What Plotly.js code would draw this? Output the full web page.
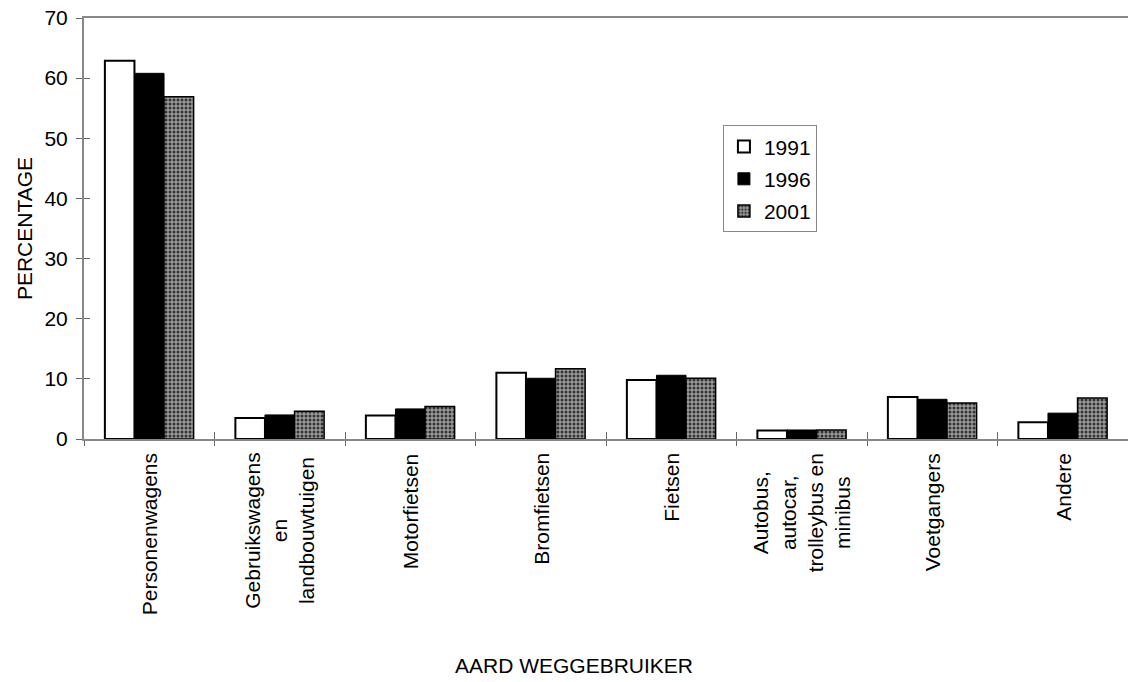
<!DOCTYPE html>
<html>
<head>
<meta charset="utf-8">
<script src="https://cdn.plot.ly/plotly-3.0.1.min.js"></script>
<style>html,body{margin:0;padding:0;background:#fff}#chart{width:1128px;height:682px}</style>
</head>
<body>
<div id="chart"></div>
<script>
const categories = [
  "Personenwagens",
  "Gebruikswagens<br>en<br>landbouwtuigen",
  "Motorfietsen",
  "Bromfietsen",
  "Fietsen",
  "Autobus,<br>autocar,<br>trolleybus en<br>minibus",
  "Voetgangers",
  "Andere"
];
const seriesNames = ["1991", "1996", "2001"];
const values1991 = [62.9, 3.5, 3.9, 11.0, 9.8, 1.4, 7.0, 2.8];
const values1996 = [60.8, 4.0, 5.0, 10.1, 10.6, 1.5, 6.6, 4.3];
const values2001 = [56.9, 4.6, 5.4, 11.7, 10.1, 1.5, 6.0, 6.8];
const yTicks = [0, 10, 20, 30, 40, 50, 60, 70];
const xTitle = "AARD WEGGEBRUIKER";
const yTitle = "PERCENTAGE";

const fam = "Liberation Sans, Arial, sans-serif";
const font = {family: fam, size: 21, color: "#000"};

const traces = [
  {type: "bar", name: seriesNames[0], legendgroup: "a", x: categories, y: values1991,
   marker: {color: "#ffffff", line: {color: "#000", width: 2}}},
  {type: "bar", name: seriesNames[1], legendgroup: "b", x: categories, y: values1996,
   marker: {color: "#000000", line: {color: "#000", width: 1}}},
  {type: "bar", name: seriesNames[2], legendgroup: "c", x: categories, y: values2001,
   marker: {color: "#8a8a8a", line: {color: "#000", width: 1.5},
            pattern: {shape: ".", fgcolor: "#333", bgcolor: "#9a9a9a", size: 4, solidity: 0.45}}},
  // helper trace for the inner half of the crossing tick marks (draws nothing)
  {type: "scatter", mode: "none", x: categories, y: values1991, xaxis: "x2", yaxis: "y2",
   showlegend: false, hoverinfo: "skip"}
];

const labelAnnotations = categories.map(c => ({
  text: c, x: c, xref: "x", y: 0, yref: "paper",
  xanchor: "center", yanchor: "top", yshift: -12,
  textangle: -90, align: "center", showarrow: false,
  font: font
}));

const layout = {
  width: 1128, height: 682,
  margin: {l: 84, r: 0, t: 18, b: 243},
  paper_bgcolor: "#fff", plot_bgcolor: "#fff",
  font: font,
  barmode: "group",
  bargap: 0.32,
  bargroupgap: 0,
  showlegend: true,
  legend: {x: 0.612, y: 0.745, xanchor: "left", yanchor: "top",
           bordercolor: "#888", borderwidth: 1, bgcolor: "#fff",
           font: {family: fam, size: 21, color: "#000"},
           itemwidth: 30, tracegroupgap: 2},
  xaxis: {
    type: "category",
    showticklabels: false,
    showline: true, linecolor: "#888", linewidth: 2, mirror: true,
    ticks: "outside", tickson: "boundaries", ticklen: 5, tickcolor: "#666",
    showgrid: false, zeroline: false, automargin: false
  },
  xaxis2: {
    type: "category", overlaying: "x", matches: "x", side: "bottom", anchor: "y2",
    showticklabels: false, showline: false,
    ticks: "inside", tickson: "boundaries", ticklen: 7, tickcolor: "#666",
    showgrid: false, zeroline: false
  },
  yaxis: {
    range: [0, 70],
    tickvals: yTicks,
    tickfont: font,
    ticklabelstandoff: 4,
    showline: true, linecolor: "#888", linewidth: 2,
    ticks: "outside", ticklen: 6, tickcolor: "#666",
    showgrid: false, zeroline: false,
    title: {text: yTitle, font: font, standoff: 6},
    automargin: false
  },
  yaxis2: {
    range: [0, 70], overlaying: "y", matches: "y", anchor: "x2",
    tickvals: yTicks, showticklabels: false, showline: false,
    ticks: "inside", ticklen: 6, tickcolor: "#666",
    showgrid: false, zeroline: false
  },
  annotations: labelAnnotations.concat([
    {text: xTitle, xref: "paper", yref: "paper",
     x: 0.469, y: -0.538, xanchor: "center", yanchor: "middle",
     showarrow: false, font: font}
  ])
};

Plotly.newPlot("chart", traces, layout, {displayModeBar: false, staticPlot: true});
</script>
</body>
</html>
